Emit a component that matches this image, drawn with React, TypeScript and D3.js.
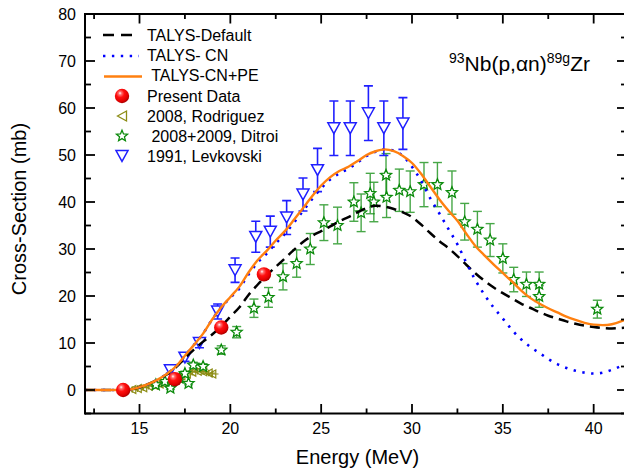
import React from "react";
import * as d3 from "d3";

// ---------- data ----------
const curveEnergy = d3.range(12, 42.001, 0.5);
const talysDefault = [0, 0, 0, 0, 0, 0.1, 0.6, 1.3, 2.2, 3.3, 4.8, 6.8, 8.6, 10.3, 11.8, 13.6, 15.6, 17.6, 20.2, 22.4, 24.4, 26.2, 28.0, 29.8, 31.5, 32.8, 33.8, 34.8, 35.9, 36.8, 37.8, 38.7, 39.2, 39.0, 38.5, 37.8, 36.8, 35.2, 33.4, 31.7, 30.2, 28.5, 26.6, 24.8, 23.2, 21.8, 20.6, 19.5, 18.4, 17.5, 16.6, 15.8, 15.2, 14.6, 14.1, 13.7, 13.4, 13.2, 13.1, 13.2, 13.4];
const talysCN = [0, 0, 0, 0, 0, 0.1, 0.6, 1.3, 2.2, 3.4, 5.0, 7.3, 9.6, 12.0, 15.0, 17.6, 19.6, 21.6, 24.6, 27.1, 29.0, 31.2, 33.2, 35.6, 38.1, 40.6, 42.9, 44.8, 46.1, 47.1, 48.4, 49.8, 50.7, 51.2, 50.9, 49.8, 47.5, 44.5, 40.8, 37.6, 34.3, 31.0, 27.0, 23.3, 20.2, 17.5, 15.2, 12.8, 10.8, 9.2, 7.9, 6.6, 5.5, 4.7, 4.1, 3.7, 3.5, 3.7, 4.3, 5.1, 6.2];
const talysCNPE = [0, 0, 0, 0, 0, 0.1, 0.6, 1.3, 2.2, 3.4, 5.0, 7.3, 9.6, 12.0, 15.0, 17.6, 19.8, 22.0, 25.0, 27.6, 29.6, 31.8, 33.8, 36.2, 38.7, 41.2, 43.5, 45.3, 46.6, 47.5, 48.7, 50.0, 50.8, 51.2, 50.8, 49.8, 48.3, 46.0, 43.3, 40.6, 38.2, 36.0, 33.2, 30.6, 28.6, 26.7, 24.9, 23.1, 21.2, 19.6, 18.4, 17.4, 16.5, 15.6, 14.9, 14.3, 13.9, 13.8, 14.0, 14.6, 15.5];

const presentE = [14.1, 16.95, 19.5, 21.85];
const presentV = [0, 2.3, 13.3, 24.6];
const presentErr = [0.3, 0.4, 0.8, 1.0];

const rodriguezE = [14.6, 14.9, 15.2, 15.5, 15.8, 16.1, 16.4, 16.7, 17.0, 17.3, 17.6, 17.9, 18.2, 18.5, 18.8, 19.0];
const rodriguezV = [0.1, 0.3, 0.5, 0.8, 1.0, 1.3, 1.6, 2.0, 2.5, 3.0, 3.4, 3.8, 4.0, 3.9, 3.6, 3.4];

const ditroiE = [15.9, 16.4, 16.7, 17.2, 17.5, 17.7, 17.96, 18.5, 19.5, 20.35, 21.3, 22.1, 22.9, 23.65, 24.4, 25.15, 25.9, 26.8, 27.2, 27.7, 27.9, 28.57, 28.6, 29.3, 29.9, 30.66, 31.4, 32.2, 32.9, 33.6, 34.3, 35.0, 35.6, 36.3, 37.0, 37.0, 40.2];
const ditroiV = [1.1, 1.8, 0.4, 2.5, 3.5, 1.4, 5.3, 5.0, 8.5, 12.3, 17.4, 19.7, 24.1, 26.9, 30.0, 35.6, 35.0, 40.0, 37.7, 41.8, 40.0, 45.7, 41.0, 42.5, 42.2, 43.7, 43.7, 42.0, 35.8, 34.2, 31.9, 28.0, 23.5, 22.5, 22.5, 19.9, 17.2];
const ditroiErr = [0.3, 0.3, 0.3, 0.4, 0.5, 0.3, 0.6, 0.6, 0.9, 1.2, 1.95, 2.1, 2.8, 2.9, 3.3, 3.8, 3.9, 4.1, 4.0, 4.3, 4.2, 4.6, 4.3, 4.5, 4.4, 4.7, 4.7, 4.6, 3.9, 3.8, 3.5, 3.1, 2.6, 2.6, 2.6, 2.3, 1.9];

const levkovskiE = [16.7, 17.5, 18.3, 19.3, 20.26, 21.4, 22.2, 23.1, 24.0, 24.8, 25.7, 26.6, 27.6, 28.45, 29.5];
const levkovskiV = [4.2, 6.9, 10.0, 16.7, 25.5, 32.6, 33.7, 36.7, 41.6, 46.8, 55.7, 55.7, 58.9, 55.7, 56.7];
const levkovskiErr = [0.6, 0.8, 1.0, 1.6, 2.6, 3.3, 3.3, 3.6, 3.5, 4.6, 5.8, 5.8, 5.8, 5.8, 5.5];

const xMajor = [15, 20, 25, 30, 35, 40];
const xMinor = [12.5, 17.5, 22.5, 27.5, 32.5, 37.5];
const yMajor = [0, 10, 20, 30, 40, 50, 60, 70, 80];
const yMinor = [-5, 5, 15, 25, 35, 45, 55, 65, 75];

const legendLabels = ["TALYS-Default", "TALYS- CN", " TALYS-CN+PE", "Present Data", "2008, Rodriguez", " 2008+2009, Ditroi", "1991, Levkovski"];

// ---------- helpers ----------
const FONT = "'Liberation Sans', Arial, sans-serif";
const W = 624, H = 473;
const x = d3.scaleLinear().domain([12, 42]).range([85, 630]);
const y = d3.scaleLinear().domain([-5, 80]).range([413.5, 14]);

function starPath(cx: number, cy: number, R: number, r: number) {
  const pts: string[] = [];
  for (let i = 0; i < 10; i++) {
    const a = -Math.PI / 2 + (i * Math.PI) / 5;
    const rad = i % 2 === 0 ? R : r;
    pts.push(`${(cx + rad * Math.cos(a)).toFixed(2)},${(cy + rad * Math.sin(a)).toFixed(2)}`);
  }
  return "M" + pts.join("L") + "Z";
}
function downTri(cx: number, cy: number, s: number) {
  const h = s * 0.9;
  return `M${cx - s / 2},${cy - h / 2}L${cx + s / 2},${cy - h / 2}L${cx},${cy + h / 2}Z`;
}
function leftTri(cx: number, cy: number, s: number) {
  const w = s * 0.9;
  return `M${cx - w / 2},${cy}L${cx + w / 2},${cy - s / 2}L${cx + w / 2},${cy + s / 2}Z`;
}

function ErrBar({ e, v, err, color, cap = 4, width = 1.4, opacity = 1 }: any) {
  const px = x(e), y1 = y(v - err), y2 = y(v + err);
  return (
    <g stroke={color} strokeWidth={width} opacity={opacity}>
      <line x1={px} x2={px} y1={y1} y2={y2} />
      <line x1={px - cap} x2={px + cap} y1={y1} y2={y1} />
      <line x1={px - cap} x2={px + cap} y1={y2} y2={y2} />
    </g>
  );
}

export default function App() {
  const line = d3.line<number>().x((_, i) => x(curveEnergy[i])).y((d) => y(d)).curve(d3.curveMonotoneX);
  const GREEN = "#0a8a0a";
  const BLUE = "#1f1fff";
  const OLIVE = "#8c8c14";
  const ORANGE = "#ff8010";

  return (
    <svg width={W} height={H} style={{ position: "absolute", left: 0, top: 0, background: "#fff" }} fontFamily={FONT}>
      <defs>
        <clipPath id="plot">
          <rect x={85} y={14} width={545} height={399.5} />
        </clipPath>
        <radialGradient id="sphere" cx="0.4" cy="0.36" r="0.62" fx="0.36" fy="0.3">
          <stop offset="0" stopColor="#ffffff" />
          <stop offset="0.18" stopColor="#ff7070" />
          <stop offset="0.45" stopColor="#ff1010" />
          <stop offset="0.85" stopColor="#e00000" />
          <stop offset="1" stopColor="#b00000" />
        </radialGradient>
      </defs>
      <rect x={0} y={0} width={W} height={H} fill="#fff" />

      <g clipPath="url(#plot)">
        {/* Rodriguez */}
        {rodriguezE.map((e, i) => (
          <g key={"r" + i} stroke={OLIVE} fill="none" strokeWidth={1.2}>
            <line x1={x(e - 0.35)} x2={x(e + 0.35)} y1={y(rodriguezV[i])} y2={y(rodriguezV[i])} />
            <line x1={x(e)} x2={x(e)} y1={y(rodriguezV[i] - 0.7)} y2={y(rodriguezV[i] + 0.7)} />
            <path d={leftTri(x(e), y(rodriguezV[i]), 8)} />
          </g>
        ))}
        {/* Ditroi */}
        {ditroiE.map((e, i) => (
          <ErrBar key={"de" + i} e={e} v={ditroiV[i]} err={ditroiErr[i]} color={GREEN} cap={4.5} opacity={0.75} />
        ))}
        {ditroiE.map((e, i) => (
          <path key={"ds" + i} d={starPath(x(e), y(ditroiV[i]), 5.8, 2.6)} fill="#fff" stroke={GREEN} strokeWidth={1.3} />
        ))}
        {/* Levkovski */}
        {levkovskiE.map((e, i) => (
          <ErrBar key={"le" + i} e={e} v={levkovskiV[i]} err={levkovskiErr[i]} color={BLUE} cap={4.5} width={1.6} />
        ))}
        {levkovskiE.map((e, i) => (
          <path key={"lt" + i} d={downTri(x(e), y(levkovskiV[i]), 12)} fill="#fff" stroke={BLUE} strokeWidth={1.5} />
        ))}

        {/* curves */}
        <path d={line(talysDefault) || ""} fill="none" stroke="#000" strokeWidth={2.5} strokeDasharray="10,6" />
        <path d={line(talysCN) || ""} fill="none" stroke="#0000ff" strokeWidth={2.6} strokeDasharray="2.4,6.5" />
        <path d={line(talysCNPE) || ""} fill="none" stroke={ORANGE} strokeWidth={2.4} />

        {/* Present data */}
        {presentE.map((e, i) => (
          <g key={"p" + i}>
            <ErrBar e={e} v={presentV[i]} err={presentErr[i]} color="#e00000" cap={5} width={1.5} />
            <circle cx={x(e)} cy={y(presentV[i])} r={7.2} fill="url(#sphere)" />
          </g>
        ))}
      </g>

      {/* axes frame */}
      <g stroke="#000" fill="none">
        <line x1={85} x2={630} y1={413.5} y2={413.5} strokeWidth={2} />
        <line x1={85} x2={630} y1={14} y2={14} strokeWidth={2} />
        <line x1={85} x2={85} y1={13} y2={414.5} strokeWidth={2} />
        <line x1={627} x2={627} y1={13} y2={414.5} strokeWidth={2} />
        {xMajor.map((t) => (
          <g key={"xm" + t}>
            <line x1={x(t)} x2={x(t)} y1={413.5} y2={404} strokeWidth={1.8} />
            <line x1={x(t)} x2={x(t)} y1={14} y2={23.5} strokeWidth={1.8} />
          </g>
        ))}
        {xMinor.map((t) => (
          <g key={"xn" + t}>
            <line x1={x(t)} x2={x(t)} y1={413.5} y2={408.5} strokeWidth={1.8} />
            <line x1={x(t)} x2={x(t)} y1={14} y2={19} strokeWidth={1.8} />
          </g>
        ))}
        {yMajor.map((t) => (
          <g key={"ym" + t}>
            <line x1={85} x2={95} y1={y(t)} y2={y(t)} strokeWidth={1.8} />
            <line x1={627} x2={617} y1={y(t)} y2={y(t)} strokeWidth={1.8} />
          </g>
        ))}
        {yMinor.map((t) => (
          <g key={"yn" + t}>
            <line x1={85} x2={91} y1={y(t)} y2={y(t)} strokeWidth={1.8} />
            <line x1={627} x2={621} y1={y(t)} y2={y(t)} strokeWidth={1.8} />
          </g>
        ))}
      </g>

      {/* tick labels */}
      {xMajor.map((t) => (
        <text key={"xl" + t} x={x(t)} y={434} textAnchor="middle" fontSize={16} fill="#000">{t}</text>
      ))}
      {yMajor.map((t) => (
        <text key={"yl" + t} x={76} y={y(t) + 5.5} textAnchor="end" fontSize={16} fill="#000">{t}</text>
      ))}

      {/* axis titles */}
      <text x={357.5} y={464} textAnchor="middle" fontSize={20} fill="#000">Energy (MeV)</text>
      <text transform="translate(26,209) rotate(-90)" textAnchor="middle" fontSize={20} fill="#000">Cross-Section (mb)</text>

      {/* reaction label */}
      <text x={449} y={71} fontSize={21} fill="#000">
        <tspan fontSize={14} dy={-8}>93</tspan>
        <tspan dy={8}>Nb(p,</tspan>
        <tspan>α</tspan>
        <tspan>n)</tspan>
        <tspan fontSize={14} dy={-8}>89g</tspan>
        <tspan dy={8}>Zr</tspan>
      </text>

      {/* legend */}
      <g>
        <line x1={103} x2={133} y1={35} y2={35} stroke="#000" strokeWidth={2.5} strokeDasharray="11,7" />
        <line x1={103} x2={139} y1={56} y2={56} stroke="#0000ff" strokeWidth={2.6} strokeDasharray="2.4,6.5" />
        <line x1={104} x2={142} y1={76.5} y2={76.5} stroke={ORANGE} strokeWidth={2.4} />
        <circle cx={122} cy={96} r={7.2} fill="url(#sphere)" />
        <path d={leftTri(122, 116, 10)} fill="#fff" stroke={OLIVE} strokeWidth={1.3} />
        <path d={starPath(122, 136, 5.8, 2.6)} fill="#fff" stroke={GREEN} strokeWidth={1.3} />
        <path d={downTri(122, 156, 12)} fill="#fff" stroke={BLUE} strokeWidth={1.5} />
        {legendLabels.map((l, i) => (
          <text key={"lg" + i} x={147} y={41 + i * 20.2} fontSize={16} fill="#000" style={{ whiteSpace: "pre" }} xmlSpace="preserve">{l}</text>
        ))}
      </g>
    </svg>
  );
}
